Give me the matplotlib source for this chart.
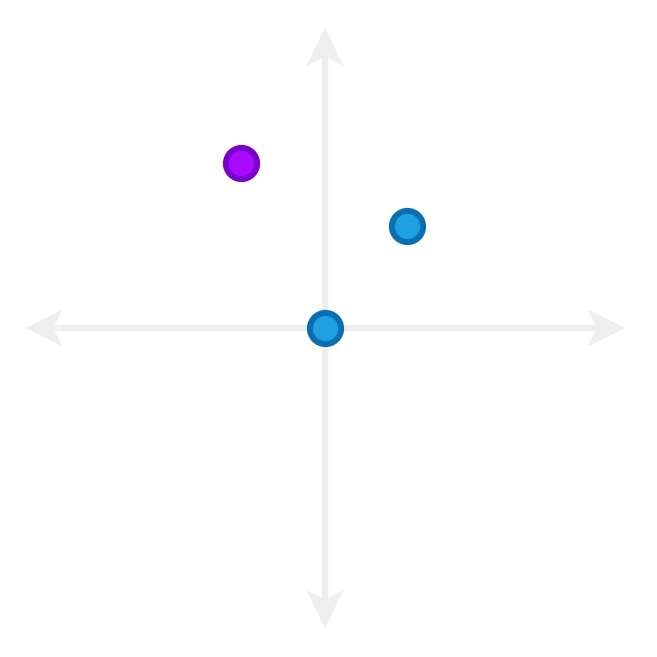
import matplotlib
matplotlib.use("Agg")
import matplotlib.pyplot as plt
from matplotlib.patches import Polygon

# points on the plane
xs = [0, 2, -2.05]
ys = [0, 2.5, 4.03]
cores = ["#1fa1e1", "#1fa1e1", "#aa0aff"]
bordas = ["#0a6eb0", "#0a6eb0", "#7a00cc"]

limite = 7.32          # where the axis arrows end
escala = 41.0          # pixels per unit

fig = plt.figure(figsize=(6.57, 6.57), dpi=100)
ax = fig.add_axes([0, 0, 1, 1])
ax.set_xlim(-325 / escala, (657 - 325) / escala)
ax.set_ylim(-(657 - 328) / escala, 328 / escala)
ax.axis("off")

cinza = "#eeeeee"
comp = 38 / escala     # arrowhead length
meia = 18.5 / escala   # arrowhead half width
entalhe = 28 / escala  # notch position from tip

ax.plot([-limite + entalhe, limite - entalhe], [0, 0], color=cinza, lw=4.5, solid_capstyle="butt", zorder=1)
ax.plot([0, 0], [-limite + entalhe, limite - entalhe], color=cinza, lw=4.5, solid_capstyle="butt", zorder=1)

for s in [1, -1]:
    ax.add_patch(Polygon([(s * limite, 0), (s * (limite - comp), meia),
                          (s * (limite - entalhe), 0), (s * (limite - comp), -meia)],
                         closed=True, color=cinza, lw=0, zorder=1))
    ax.add_patch(Polygon([(0, s * limite), (meia, s * (limite - comp)),
                          (0, s * (limite - entalhe)), (-meia, s * (limite - comp))],
                         closed=True, color=cinza, lw=0, zorder=1))

for x, y, c, b in zip(xs, ys, cores, bordas):
    ax.plot(x, y, "o", ms=22.5, mfc=c, mec=b, mew=4.3, zorder=3)

fig.savefig("out.png", dpi=100, facecolor="white")
